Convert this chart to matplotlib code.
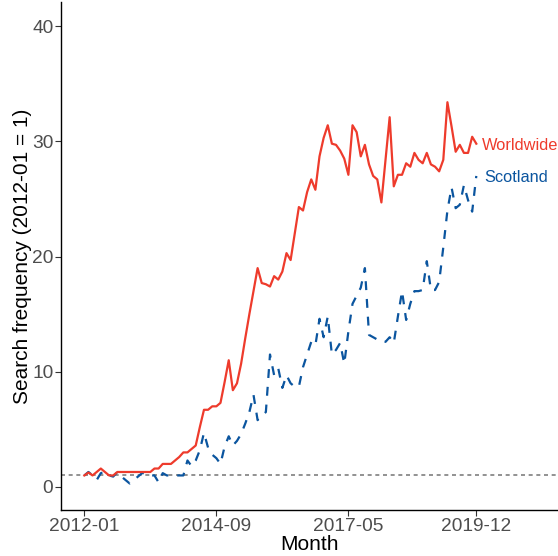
import matplotlib
matplotlib.use("Agg")
import matplotlib.pyplot as plt
import numpy as np

# Month index 0 = 2012-01
tick_labels = ["2012-01", "2014-09", "2017-05", "2019-12"]
tick_positions = [0, 32, 64, 95]

worldwide = [
    1.0, 1.25, 1.0, 1.3, 1.6, 1.3, 1.0, 1.0, 1.3, 1.3,
    1.3, 1.3, 1.3, 1.3, 1.3, 1.3, 1.3, 1.6, 1.6, 2.0,
    2.0, 2.0, 2.3, 2.6, 3.0, 3.0, 3.3, 3.6, 5.2, 6.7,
    6.7, 7.0, 7.0, 7.3, 9.1, 11.0, 8.4, 9.0, 10.7, 12.9,
    15.0, 17.0, 19.0, 17.7, 17.6, 17.4, 18.3, 18.0, 18.7, 20.3,
    19.7, 22.0, 24.3, 24.0, 25.6, 26.7, 25.8, 28.7, 30.3, 31.4,
    29.8, 29.7, 29.2, 28.5, 27.1, 31.4, 30.8, 28.7, 29.7, 28.0,
    27.0, 26.7, 24.7, 28.4, 32.1, 26.1, 27.1, 27.1, 28.1, 27.8,
    29.0, 28.4, 28.1, 29.0, 28.0, 27.8, 27.4, 28.4, 33.4, 31.3,
    29.1, 29.7, 29.0, 29.0, 30.4, 29.8,
]

scotland = [
    1.0, 1.3, 1.0, 0.6, 1.2, 1.3, 1.0, 0.9, 1.3, 0.9,
    0.6, 0.3, 0.6, 0.9, 1.2, 1.2, 1.0, 1.0, 0.4, 1.2,
    1.0, 1.0, 1.0, 1.0, 1.0, 2.3, 1.8, 2.3, 3.2, 4.7,
    3.4, 2.8, 2.5, 2.0, 3.5, 4.4, 3.6, 4.0, 4.6, 5.5,
    6.5, 8.0, 5.8, 6.2, 6.5, 11.5, 9.7, 10.3, 8.6, 9.7,
    9.0, 8.7, 8.7, 10.4, 11.5, 12.6, 12.3, 14.6, 13.0, 14.8,
    11.5, 11.9, 12.5, 10.7, 13.5, 15.9, 16.6, 17.3, 19.0, 13.2,
    13.0, 12.8, 12.6, 12.6, 13.0, 12.5, 14.8, 17.0, 14.5, 15.9,
    17.0, 17.0, 17.1, 19.6, 17.1, 17.1, 17.8, 20.8, 24.0, 26.0,
    24.2, 24.5, 26.2, 24.9, 23.9, 27.0,
]

series_names = ["Worldwide", "Scotland"]
red = "#EE3B2C"
blue = "#0B559F"

fig = plt.figure(figsize=(5.58, 5.56), dpi=100)
ax = fig.add_axes([61 / 558, 46 / 556, 1 - 61 / 558, (510 - 2) / 556])

x = np.arange(len(worldwide))
ax.axhline(1, color="#7F7F7F", lw=1.2, linestyle=(0, (2.4, 2.2)), zorder=1)
ax.plot(x, worldwide, color=red, lw=1.6, zorder=3)
ax.plot(np.arange(len(scotland)), scotland, color=blue, lw=1.6,
        linestyle=(0, (4, 4)), zorder=2)

ax.text(len(worldwide) - 1 + 1.3, worldwide[-1] - 0.2, series_names[0], color=red,
        fontsize=11.8, ha="left", va="center", family="Liberation Sans")
ax.text(len(scotland) - 1 + 1.9, scotland[-1] - 0.1, series_names[1], color=blue,
        fontsize=11.8, ha="left", va="center", family="Liberation Sans")

ax.set_xlim(-5.65, 114.8)
ax.set_ylim(-2.0, 42.1)
ax.set_xticks(tick_positions)
ax.set_xticklabels(tick_labels)
ax.set_yticks([0, 10, 20, 30, 40])

for s in ["top", "right"]:
    ax.spines[s].set_visible(False)
for s in ["left", "bottom"]:
    ax.spines[s].set_linewidth(1.0)
    ax.spines[s].set_color("black")

ax.tick_params(axis="both", length=4, width=0.8, color="#333333",
               labelsize=13.8, labelcolor="#4D4D4D", pad=1.5)
for lab in ax.get_xticklabels() + ax.get_yticklabels():
    lab.set_family("Liberation Sans")

ax.set_xlabel("Month", fontsize=15, family="Liberation Sans")
ax.set_ylabel("Search frequency (2012-01 = 1)", fontsize=15,
              family="Liberation Sans")
ax.xaxis.set_label_coords(0.5, -0.05)
ax.yaxis.set_label_coords(-0.058, 0.5)

fig.savefig("out.png", dpi=100)
